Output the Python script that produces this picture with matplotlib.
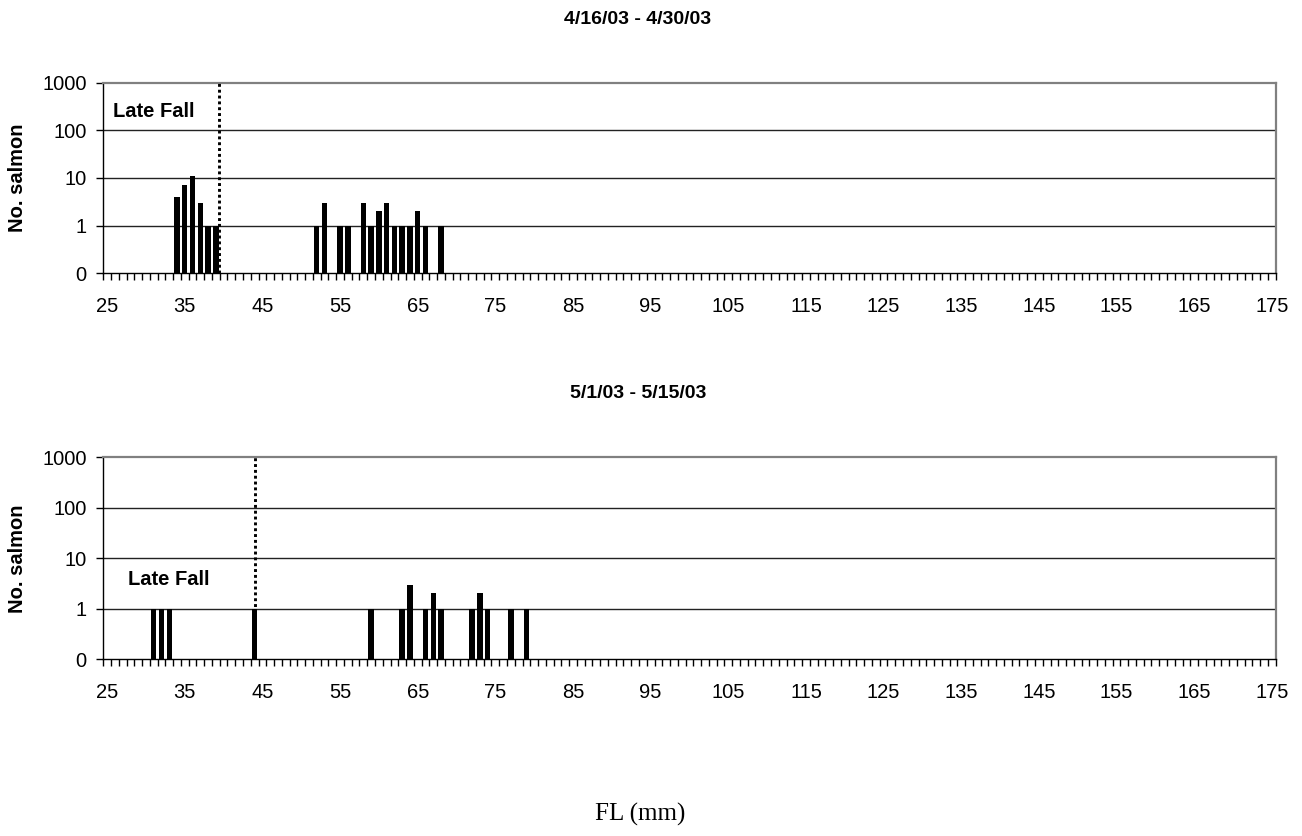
import matplotlib
matplotlib.use("Agg")
import matplotlib.pyplot as plt
import numpy as np

# fork length (mm) and counts for each period
top_fl = [34, 35, 36, 37, 38, 39, 52, 53, 55, 56, 58, 59, 60, 61, 62, 63, 64, 65, 66, 68]
top_n = [4, 7, 11, 3, 1, 1, 1, 3, 1, 1, 3, 1, 2, 3, 1, 1, 1, 2, 1, 1]
bot_fl = [31, 32, 33, 44, 59, 63, 64, 66, 67, 68, 72, 73, 74, 77, 79]
bot_n = [1, 1, 1, 1, 1, 1, 3, 1, 2, 1, 1, 2, 1, 1, 1]

titles = ["4/16/03 - 4/30/03", "5/1/03 - 5/15/03"]
cutoffs = [39.4, 44]
y_labels = ["0", "1", "10", "100", "1000"]
x_labels = list(range(25, 176, 10))

plt.rcParams['font.family'] = ['Liberation Sans', 'DejaVu Sans']


def to_axis(n):
    # Excel-style log axis with a zero floor: 0 -> 0, 1 -> 1, 10 -> 2 ...
    n = np.asarray(n, dtype=float)
    return np.where(n > 0, np.log10(np.maximum(n, 1e-9)) + 1, 0)


fig = plt.figure(figsize=(13.02, 8.36), dpi=100)
ax_top = fig.add_axes([0.0793, 0.6731, 0.9005, 0.2280])
ax_bot = fig.add_axes([0.0793, 0.2117, 0.9005, 0.2413])


def draw_panel(ax, fl, n, cut, label_xy):
    ax.bar(fl, to_axis(n), width=0.7, color='black', zorder=3)
    ax.plot([cut, cut], [0, 4], color='black', lw=2.1,
            linestyle=(0, (1, 1)), zorder=4, solid_capstyle='butt')
    ax.set_xlim(24.5, 175.5)
    ax.set_ylim(0, 4)
    ax.set_yticks(range(5))
    ax.set_yticklabels(y_labels)
    for y in [1, 2, 3]:
        ax.axhline(y, color='#222222', lw=1.0, zorder=1)
    ax.set_xticks(x_labels)
    ax.set_xticklabels([str(v) for v in x_labels])
    ax.set_xticks(np.arange(24.5, 176, 1), minor=True)
    ax.tick_params(axis='x', which='major', length=0, labelsize=14.5, pad=17)
    ax.tick_params(axis='x', which='minor', length=5, width=1, direction='out')
    ax.tick_params(axis='y', length=5, width=1, labelsize=14.5, pad=7)
    for s in ['top', 'right']:
        ax.spines[s].set_color('#808080')
        ax.spines[s].set_linewidth(1.6)
    for s in ['left', 'bottom']:
        ax.spines[s].set_color('black')
        ax.spines[s].set_linewidth(1.0)
    ax.text(label_xy[0], label_xy[1], "Late Fall", fontsize=14.5, fontweight='bold',
            ha='left', va='center', zorder=5)


draw_panel(ax_top, top_fl, top_n, cutoffs[0], (25.75, 3.39))
draw_panel(ax_bot, bot_fl, bot_n, cutoffs[1], (27.7, 1.58))

fig.text(0.49, 0.977, titles[0], ha='center', va='center', fontsize=14, fontweight='bold')
fig.text(0.49, 0.529, titles[1], ha='center', va='center', fontsize=14, fontweight='bold')
fig.text(0.0138, 0.787, "No. salmon", rotation=90, ha='center', va='center',
         fontsize=14.5, fontweight='bold')
fig.text(0.0138, 0.332, "No. salmon", rotation=90, ha='center', va='center',
         fontsize=14.5, fontweight='bold')
fig.text(0.4915, 0.0263, "FL (mm)", ha='center', va='center', fontsize=18,
         family=['Liberation Serif', 'DejaVu Serif'])

fig.savefig("out.png", dpi=100)
